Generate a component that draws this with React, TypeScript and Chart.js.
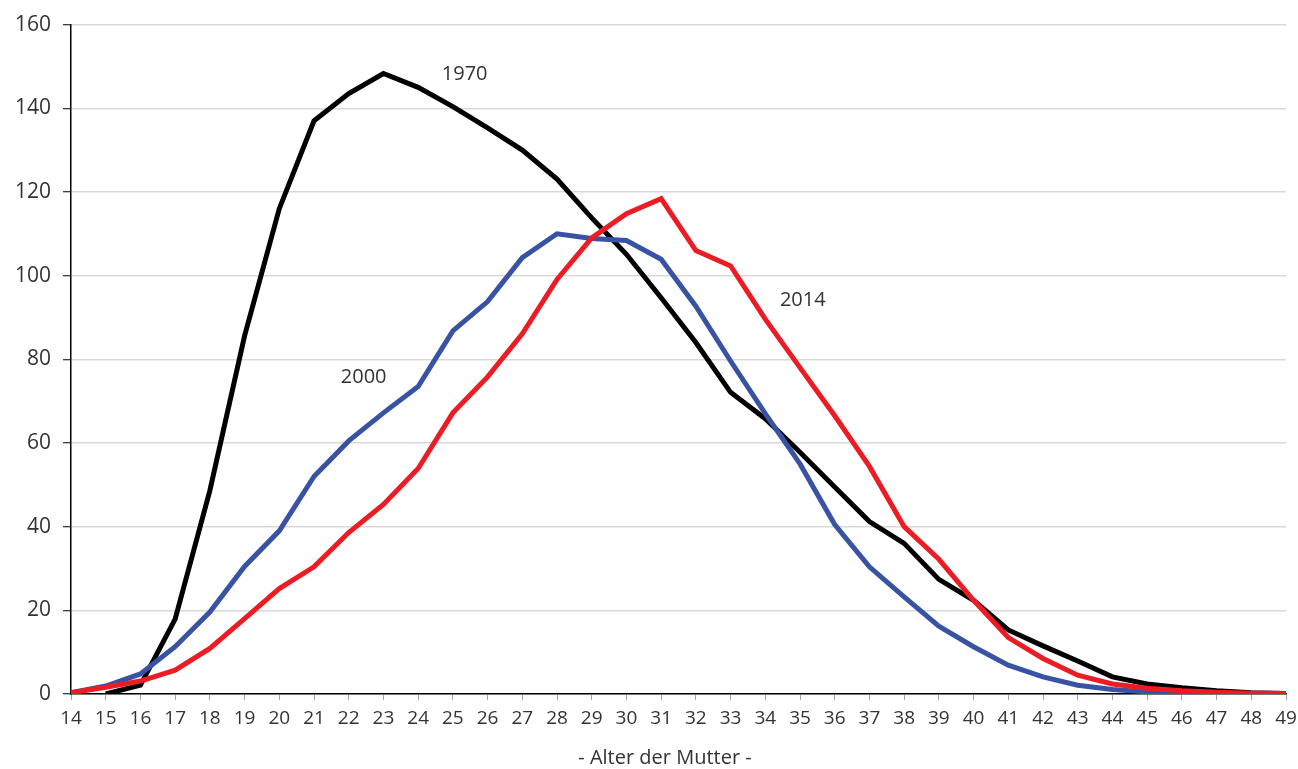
import React, { useEffect, useRef } from "react";
import { Chart, registerables } from "chart.js";

Chart.register(...registerables);

const ages: string[] = [];
for (let a = 14; a <= 49; a++) ages.push(String(a));

const values1970: (number | null)[] = [
  null, 0, 2.1, 17.9, 48.6, 85.6, 116, 137, 143.5, 148.3, 145, 140.4, 135.3, 130, 123.1, 113.8,
  105.1, 94.7, 84, 72.1, 65.8, 57.8, 49.5, 41.2, 36, 27.4, 22.4, 15.3, 11.5, 7.9, 4.1, 2.4,
  1.5, 0.8, 0.3, 0.1,
];
const values2000: number[] = [
  0.3, 1.9, 4.8, 11.3, 19.6, 30.5, 39, 52, 60.5, 67.2, 73.5, 86.8, 93.8, 104.3, 110, 108.9,
  108.4, 103.9, 92.7, 79.6, 67, 55, 40.5, 30.4, 23.2, 16.2, 11.3, 6.9, 4.1, 2.1, 1.1, 0.5,
  0.3, 0.1, 0.05, 0,
];
const values2014: number[] = [
  0.3, 1.6, 3.1, 5.7, 10.9, 18, 25.2, 30.4, 38.6, 45.3, 53.9, 67.2, 75.8, 86.1, 99.1, 109,
  114.8, 118.4, 106, 102.3, 89.6, 78, 66.5, 54.4, 40, 32.2, 22.4, 13.5, 8.5, 4.5, 2.4, 1.4,
  0.8, 0.4, 0.2, 0.1,
];

const seriesNames = ["1970", "2000", "2014"];
const seriesColors = ["#000000", "#3953a4", "#ed1c24"];
// label anchor positions in data space: [category index, value]
const labelAnchors: [number, number][] = [
  [11.34, 148.1],
  [8.43, 75.8],
  [21.08, 94.2],
];
const yTicks = [0, 20, 40, 60, 80, 100, 120, 140, 160];
const xTitle = "- Alter der Mutter -";

const FONT = "'Open Sans', 'Noto Sans', sans-serif";
const TEXT_COLOR = "#333333";

export default function App() {
  const ref = useRef<HTMLCanvasElement | null>(null);

  useEffect(() => {
    if (!ref.current) return;
    const labelPlugin = {
      id: "seriesLabels",
      afterDatasetsDraw(chart: any) {
        const ctx = chart.ctx;
        const xs = chart.scales.x;
        const ys = chart.scales.y;
        ctx.save();
        ctx.font = `20px ${FONT}`;
        ctx.fillStyle = TEXT_COLOR;
        ctx.textAlign = "center";
        ctx.textBaseline = "middle";
        seriesNames.forEach((n, i) => {
          const [xi, yv] = labelAnchors[i];
          ctx.fillText(n, xs.getPixelForValue(xi), ys.getPixelForValue(yv));
        });
        ctx.font = `20px ${FONT}`;
        ctx.fillText(xTitle, 665, 758);
        ctx.restore();
      },
    };

    const chart = new Chart(ref.current, {
      type: "line",
      data: {
        labels: ages,
        datasets: [values1970, values2000, values2014].map((d, i) => ({
          label: seriesNames[i],
          data: d,
          borderColor: seriesColors[i],
          backgroundColor: seriesColors[i],
          borderWidth: 5,
          pointRadius: 0,
          pointHoverRadius: 0,
          tension: 0,
          fill: false,
          order: 3 - i,
        })),
      },
      options: {
        animation: false,
        responsive: true,
        maintainAspectRatio: false,
        layout: { padding: { top: 23, right: 12, left: 0, bottom: 0 } },
        plugins: {
          legend: { display: false },
          tooltip: { enabled: false },
          title: { display: false },
        },
        scales: {
          x: {
            type: "category",
            offset: false,
            grid: {
              display: true,
              drawOnChartArea: false,
              drawTicks: true,
              tickLength: 6,
              tickColor: "#a6a6a6",
              tickWidth: 1,
            },
            border: { display: true, color: "#000000", width: 1.5 },
            ticks: {
              autoSkip: false,
              maxRotation: 0,
              minRotation: 0,
              padding: 7,
              color: TEXT_COLOR,
              font: { family: FONT, size: 19 },
            },
            afterFit(scale: any) {
              scale.height = 75;
              scale.paddingRight = 0;
              scale.paddingLeft = 0;
            },
          },
          y: {
            min: 0,
            max: 160,
            afterBuildTicks(scale: any) {
              scale.ticks = yTicks.map((v) => ({ value: v }));
            },
            grid: {
              color: "#d9d9d9",
              lineWidth: 1.5,
              drawTicks: true,
              tickLength: 8,
              tickColor: "#000000",
              tickWidth: 1,
            },
            border: { display: true, color: "#000000", width: 1.5 },
            ticks: {
              padding: 12,
              color: TEXT_COLOR,
              font: { family: FONT, size: 21 },
            },
            afterFit(scale: any) {
              scale.width = 71;
            },
          },
        },
      },
      plugins: [labelPlugin],
    });
    return () => chart.destroy();
  }, []);

  return (
    <div style={{ position: "absolute", left: 0, top: 0, width: 1298, height: 769, background: "#fff" }}>
      <canvas ref={ref} />
    </div>
  );
}
